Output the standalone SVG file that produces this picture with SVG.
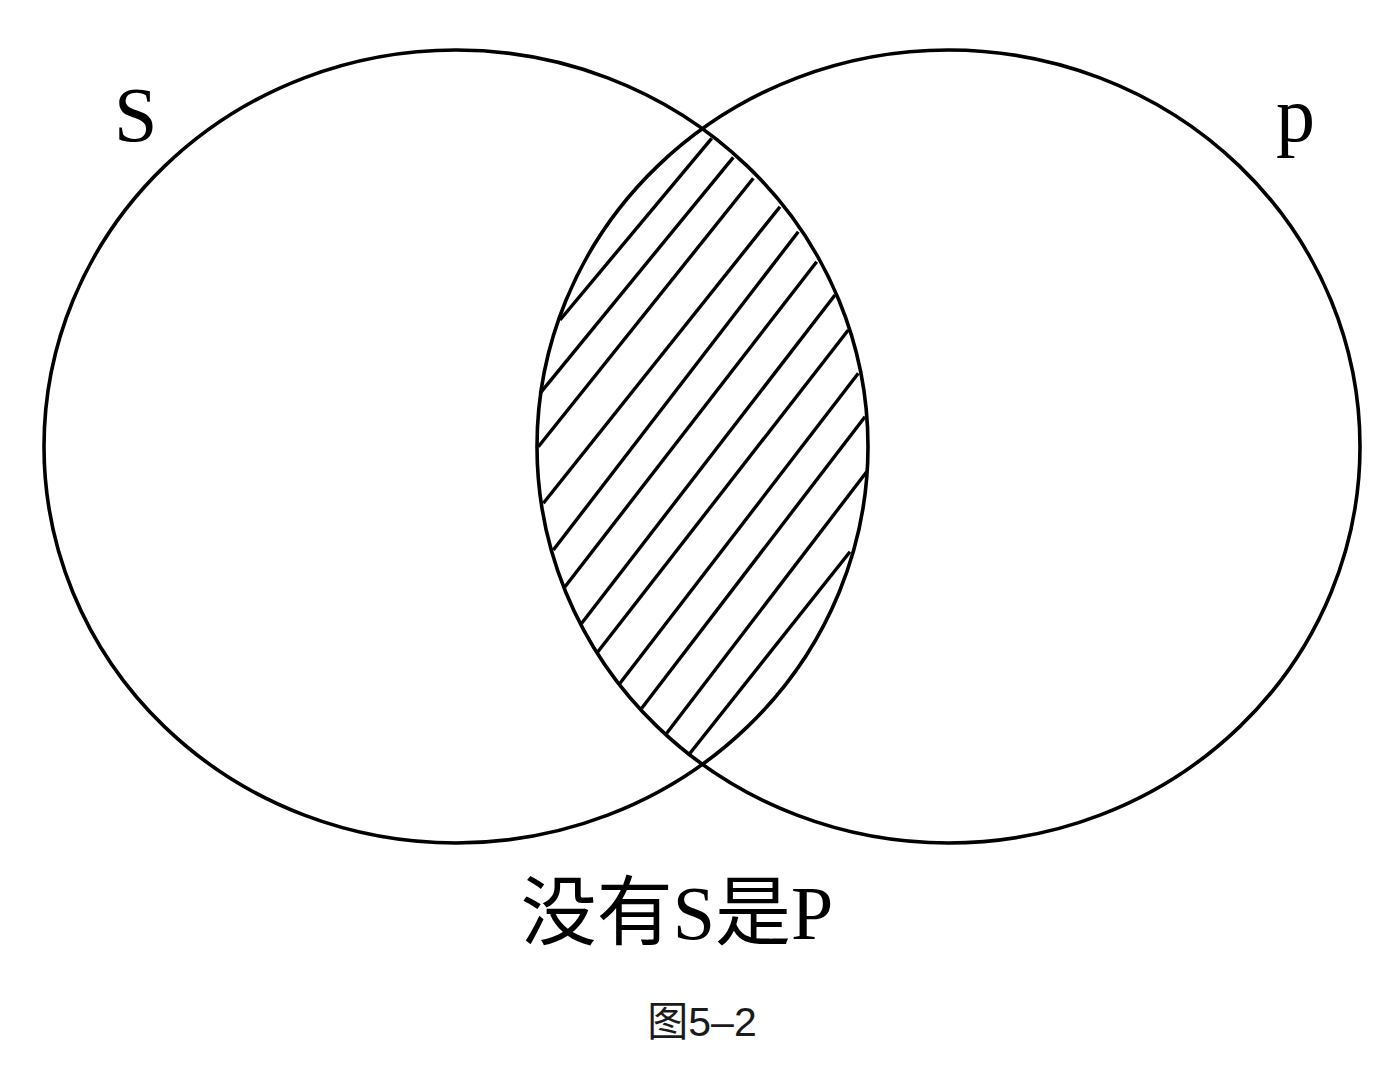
<svg xmlns="http://www.w3.org/2000/svg" width="1380" height="1074" viewBox="0 0 1380 1074">
  <style>
    .ring { fill: none; stroke: #000; stroke-width: 3.6; }
    .hatch line { stroke: #000; stroke-width: 3.4; stroke-linecap: butt; }
    .lbl { font-family: "Liberation Serif", "Noto Sans CJK SC", serif; fill: #000; }
    .cap { font-family: "Liberation Sans", "Noto Sans CJK SC", sans-serif; fill: #1a1a1a; }
  </style>
  <rect x="0" y="0" width="1380" height="1074" fill="#fff"/>
  <g id="set-S">
    <ellipse class="ring" cx="456" cy="446.5" rx="412" ry="396.5"/>
    <text class="lbl" x="114" y="141" font-size="78">S</text>
  </g>
  <g id="set-P">
    <ellipse class="ring" cx="948.5" cy="446.5" rx="411.5" ry="396.5"/>
    <text class="lbl" x="1276" y="141" font-size="78">p</text>
  </g>
  <g id="hatching" class="hatch">
    <line x1="560" y1="320" x2="711.7" y2="138.3"/>
    <line x1="540" y1="393.3" x2="733.3" y2="157.3"/>
    <line x1="538.3" y1="446.7" x2="753.3" y2="178.3"/>
    <line x1="543.3" y1="503.3" x2="780" y2="206.7"/>
    <line x1="553.3" y1="550" x2="798.3" y2="231.7"/>
    <line x1="565" y1="586.7" x2="816.7" y2="261.7"/>
    <line x1="581.7" y1="623.3" x2="835" y2="295"/>
    <line x1="596.7" y1="653.3" x2="848.3" y2="330"/>
    <line x1="620" y1="683.3" x2="858.3" y2="373.3"/>
    <line x1="641.7" y1="708.3" x2="865" y2="416.7"/>
    <line x1="666.7" y1="733.3" x2="866.7" y2="471.7"/>
    <line x1="690" y1="753.3" x2="850" y2="551.7"/>
  </g>
  <g id="captions">
    <text class="lbl" x="677" y="939" font-size="76" text-anchor="middle">没有S是P</text>
    <text class="cap" x="702" y="1036" font-size="41" text-anchor="middle">图5–2</text>
  </g>
</svg>
